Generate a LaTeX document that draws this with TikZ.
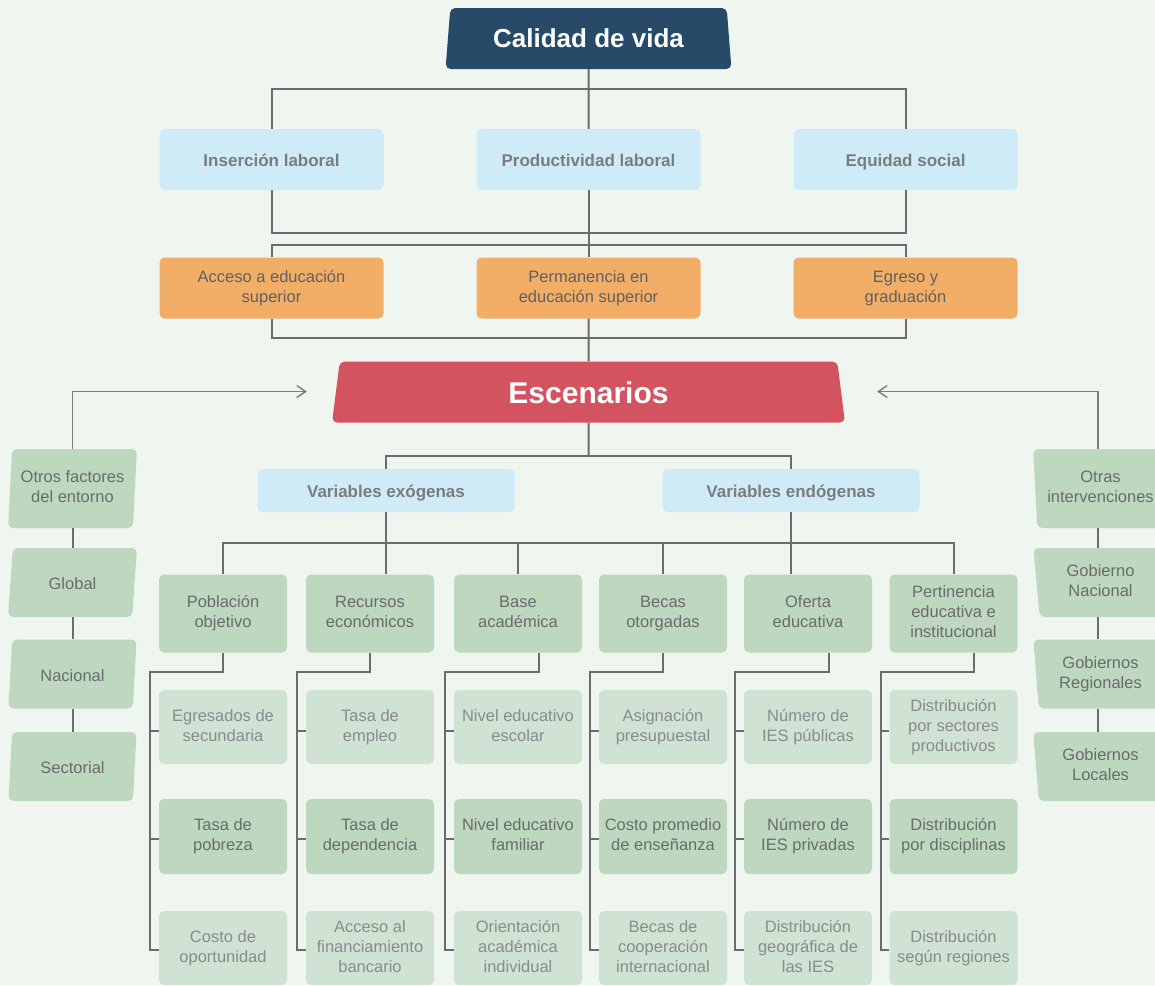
\documentclass[tikz,border=0pt]{standalone}
\usepackage{fontspec}
\setmainfont{Liberation Sans}
\usetikzlibrary{shapes.geometric,arrows.meta}
\definecolor{bgc}{HTML}{EFF5EF}
\definecolor{navy}{HTML}{264A67}
\definecolor{rojo}{HTML}{D45360}
\definecolor{celeste}{HTML}{D0EBF8}
\definecolor{naranja}{HTML}{F2AE67}
\definecolor{verde}{HTML}{BDD8BE}
\definecolor{verdeclaro}{HTML}{CFE2D3}
\definecolor{linec}{HTML}{6A6C6E}
\definecolor{linec2}{HTML}{7A7C7E}
\definecolor{bluetxt}{HTML}{7A7C7E}
\definecolor{txtdark}{HTML}{5F6062}
\definecolor{txtgreen}{HTML}{6A6B6D}
\definecolor{txtlight}{HTML}{8A8B8D}
\newcommand{\topstrut}{\rule{0pt}{0.9\baselineskip}}
\newcommand{\bigtopstrut}{\rule{0pt}{0.77\baselineskip}}
\newcommand{\botstrut}{\rule[-0.2\baselineskip]{0pt}{0.2\baselineskip}}
\newcommand{\ml}[1]{\begin{tabular}{@{}c@{}}#1\end{tabular}}
\begin{document}
\begin{tikzpicture}[x=1pt,y=-1pt,
  conn/.style={draw=linec,line width=2pt},
  arr/.style={draw=linec2,line width=1.4pt,-{Straight Barb[length=9pt,width=12pt,line width=1.4pt]}},
  boxbase/.style={inner sep=0pt,rounded corners=5pt},
  sl/.style={execute at begin node=\topstrut,execute at end node=\botstrut},
  reg/.style={font=\fontsize{16.5}{20}\selectfont},
  topbox/.style={boxbase,execute at begin node=\bigtopstrut,execute at end node=\botstrut,trapezium,trapezium left angle=83.5,trapezium right angle=83.5,trapezium stretches=true,minimum width=286pt,minimum height=61pt,fill=navy,text=white,font=\bfseries\fontsize{26}{30}\selectfont},
  escbox/.style={boxbase,sl,trapezium,trapezium left angle=86.2,trapezium right angle=86.2,trapezium stretches=true,minimum width=513pt,minimum height=61pt,fill=rojo,text=white,font=\bfseries\fontsize{30}{34}\selectfont},
  bluebox/.style={boxbase,sl,fill=celeste,minimum width=224pt,minimum height=61pt,text=bluetxt,font=\bfseries\fontsize{17}{20}\selectfont},
  orangebox/.style={boxbase,reg,fill=naranja,minimum width=224pt,minimum height=61pt,text=txtdark},
  varbox/.style={bluebox,minimum width=257pt,minimum height=43pt},
  catbox/.style={boxbase,reg,fill=verde,minimum width=128pt,minimum height=78pt,text=txtgreen},
  subA/.style={boxbase,reg,fill=verdeclaro,minimum width=128pt,minimum height=74pt,text=txtlight},
  subB/.style={boxbase,reg,fill=verde,minimum width=128pt,minimum height=75pt,text=txtgreen},
  sideL/.style={boxbase,reg,trapezium,trapezium left angle=85,trapezium right angle=95,trapezium stretches=true,minimum width=129pt,minimum height=69pt,fill=verde,text=txtgreen},
  sideR/.style={boxbase,reg,trapezium,trapezium left angle=95,trapezium right angle=85,trapezium stretches=true,minimum width=135pt,minimum height=69pt,fill=verde,text=txtgreen}
]
\useasboundingbox (0,0) rectangle (1155,985);
\fill[bgc] (0,0) rectangle (1155,985);
\clip (0,0) rectangle (1155,985);

% top
\node[topbox] (cal) at (588.5,38.5) {Calidad de vida};
\node[bluebox] (ins) at (271.5,159.5) {Inserción laboral};
\node[bluebox] (prod) at (588.5,159.5) {Productividad laboral};
\node[bluebox] (equ) at (905.5,159.5) {Equidad social};
\node[orangebox] (acc) at (271.5,288) {\ml{Acceso a educación\\superior}};
\node[orangebox] (perm) at (588.5,288) {\ml{Permanencia en\\educación superior}};
\node[orangebox] (egr) at (905.5,288) {\ml{Egreso y\\graduación}};
\node[escbox] (esc) at (588.5,392) {Escenarios};

\draw[conn] (cal.south) -- (prod.north);
\draw[conn] (ins.north) -- ++(0,-40) -| (equ.north);
\draw[conn] (ins.south) -- ++(0,43) -| (equ.south);
\draw[conn] (prod.south) -- (perm.north);
\draw[conn] (acc.north) -- ++(0,-12.5) -| (egr.north);
\draw[conn] (acc.south) -- ++(0,19) -| (egr.south);
\draw[conn] (perm.south) -- (esc.north);

% variables
\node[varbox] (exo) at (386,490.5) {Variables exógenas};
\node[varbox] (endo) at (791,490.5) {Variables endógenas};
\coordinate (j1) at (588.5,456);
\draw[conn] (esc.south) -- (j1);
\draw[conn] (exo.north) |- (j1) -| (endo.north);

% categories
\node[catbox] (pob) at (223,613.5) {\ml{Población\\objetivo}};
\node[catbox] (rec) at (370,613.5) {\ml{Recursos\\económicos}};
\node[catbox] (bas) at (518,613.5) {\ml{Base\\académica}};
\node[catbox] (bec) at (663,613.5) {\ml{Becas\\otorgadas}};
\node[catbox] (ofe) at (808,613.5) {\ml{Oferta\\educativa}};
\node[catbox] (per) at (953.5,613.5) {\ml{Pertinencia\\educativa e\\institucional}};

\draw[conn] (pob.north) -- ++(0,-31) -| (per.north);
\draw[conn] (exo.south) -- (exo.south |- rec.north);
\draw[conn] (bas.north) -- ++(0,-31);
\draw[conn] (bec.north) -- ++(0,-31);
\draw[conn] (endo.south) -- (endo.south |- ofe.north);

% sub boxes
\node[subA] (pob1) at (223,727) {\ml{Egresados de\\secundaria}};
\node[subB] (pob2) at (223,836.5) {\ml{Tasa de\\pobreza}};
\node[subA] (pob3) at (223,948) {\ml{Costo de\\oportunidad}};
\node[subA] (rec1) at (370,727) {\ml{Tasa de\\empleo}};
\node[subB] (rec2) at (370,836.5) {\ml{Tasa de\\dependencia}};
\node[subA] (rec3) at (370,948) {\ml{Acceso al\\financiamiento\\bancario}};
\node[subA] (bas1) at (518,727) {\ml{Nivel educativo\\escolar}};
\node[subB] (bas2) at (518,836.5) {\ml{Nivel educativo\\familiar}};
\node[subA] (bas3) at (518,948) {\ml{Orientación\\académica\\individual}};
\node[subA] (bec1) at (663,727) {\ml{Asignación\\presupuestal}};
\node[subB] (bec2) at (663,836.5) {\ml{Costo promedio\\de enseñanza}};
\node[subA] (bec3) at (663,948) {\ml{Becas de\\cooperación\\internacional}};
\node[subA] (ofe1) at (808,727) {\ml{Número de\\IES públicas}};
\node[subB] (ofe2) at (808,836.5) {\ml{Número de\\IES privadas}};
\node[subA] (ofe3) at (808,948) {\ml{Distribución\\geográfica de\\las IES}};
\node[subA] (per1) at (953.5,727) {\ml{Distribución\\por sectores\\productivos}};
\node[subB] (per2) at (953.5,836.5) {\ml{Distribución\\por disciplinas}};
\node[subA] (per3) at (953.5,948) {\ml{Distribución\\según regiones}};

\foreach \nm/\dx in {pob/0,rec/0,bas/21,bec/0,ofe/21,per/20.5}{
  \draw[conn] ([xshift=\dx pt]\nm.south) -- ++(0,19) -| ([xshift=-8.5pt,yshift=-2pt]\nm3.west) -- ([yshift=-2pt]\nm3.west);
  \draw[conn] ([xshift=-8.5pt,yshift=-4pt]\nm1.west) -- ([yshift=-4pt]\nm1.west);
  \draw[conn] ([xshift=-8.5pt,yshift=-2pt]\nm2.west) -- ([yshift=-2pt]\nm2.west);
}

% left column
\node[sideL,minimum height=79pt] (otros) at (72.5,488.5) {\ml{Otros factores\\del entorno}};
\node[sideL,sl] (glob) at (72.5,582.5) {Global};
\node[sideL,sl] (nac) at (72.5,674) {Nacional};
\node[sideL,sl] (sec) at (72.5,766.5) {Sectorial};
\draw[conn] (otros.center |- otros.south) -- (glob.center |- glob.north);
\draw[conn] (glob.center |- glob.south) -- (nac.center |- nac.north);
\draw[conn] (nac.center |- nac.south) -- (sec.center |- sec.north);

% right column
\node[sideR,minimum height=79pt] (otr) at (1100.5,488.5) {\ml{Otras\\intervenciones}};
\node[sideR] (gn) at (1100.5,582.5) {\ml{Gobierno\\Nacional}};
\node[sideR] (gr) at (1100.5,674) {\ml{Gobiernos\\Regionales}};
\node[sideR] (gl) at (1100.5,766.5) {\ml{Gobiernos\\Locales}};
\draw[conn] ([xshift=-2.5pt]otr.center |- otr.south) -- ([xshift=-2.5pt]gn.center |- gn.north);
\draw[conn] ([xshift=-2.5pt]gn.center |- gn.south) -- ([xshift=-2.5pt]gr.center |- gr.north);
\draw[conn] ([xshift=-2.5pt]gr.center |- gr.south) -- ([xshift=-2.5pt]gl.center |- gl.north);

% arrows to Escenarios
\coordinate (escL) at (307,391.5);
\coordinate (escR) at (877,391.5);
\draw[arr] (otros.center |- otros.north) |- (escL);
\draw[arr] ([xshift=-2.5pt]otr.center |- otr.north) |- (escR);
\end{tikzpicture}
\end{document}
